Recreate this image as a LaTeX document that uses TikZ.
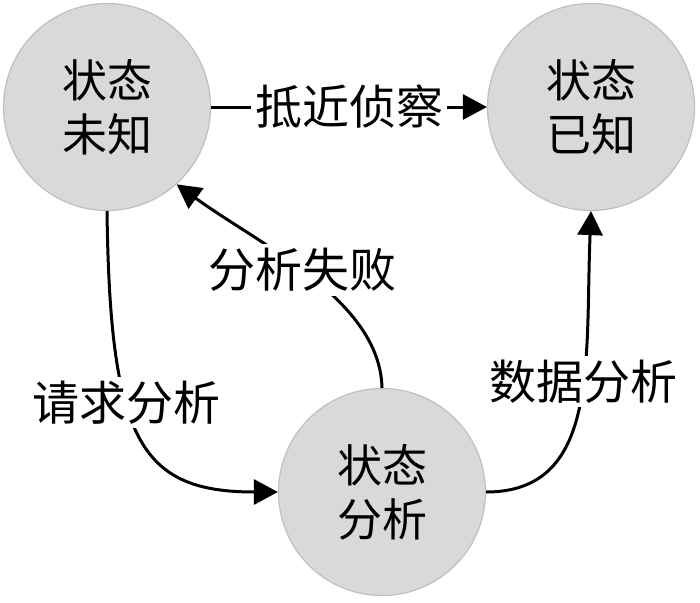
\documentclass[tikz,border=0pt]{standalone}
\usepackage{fontspec}
\setmainfont{Noto Sans CJK SC}
\usetikzlibrary{arrows.meta}

\tikzset{
  state/.style={circle,draw=black!25,line width=1.2pt,fill=black!15,minimum size=207pt,inner sep=0pt,align=center,font=\fontsize{45pt}{54pt}\selectfont},
  link/.style={line width=3pt,-{Triangle[length=24pt,width=25pt]}},
  tag/.style={fill=white,inner sep=4pt,font=\fontsize{47pt}{56pt}\selectfont}
}

\begin{document}
\begin{tikzpicture}[x=1pt,y=-1pt]
\useasboundingbox (0,0) rectangle (700,602);
\node[state] (unknown) at (107,107) {状态\\未知};
\node[state] (known) at (591,107) {状态\\已知};
\node[state] (analysis) at (382,492) {状态\\分析};
\draw[link] (unknown.east) -- node[tag] (recon) {抵近侦察} (known.west);
\draw[link] (unknown.south) .. controls (110,440) and (140,492) .. node[tag,pos=0.38] (request) {请求分析} (analysis.west);
\draw[link] (analysis.north) .. controls (380,300) and (260,245) .. node[tag,pos=0.53] (fail) {分析失败} (unknown.-48);
\draw[link] (analysis.east) .. controls (600,492) and (585,360) .. node[tag,pos=0.58] (data) {数据分析} (known.south);
\end{tikzpicture}
\end{document}
